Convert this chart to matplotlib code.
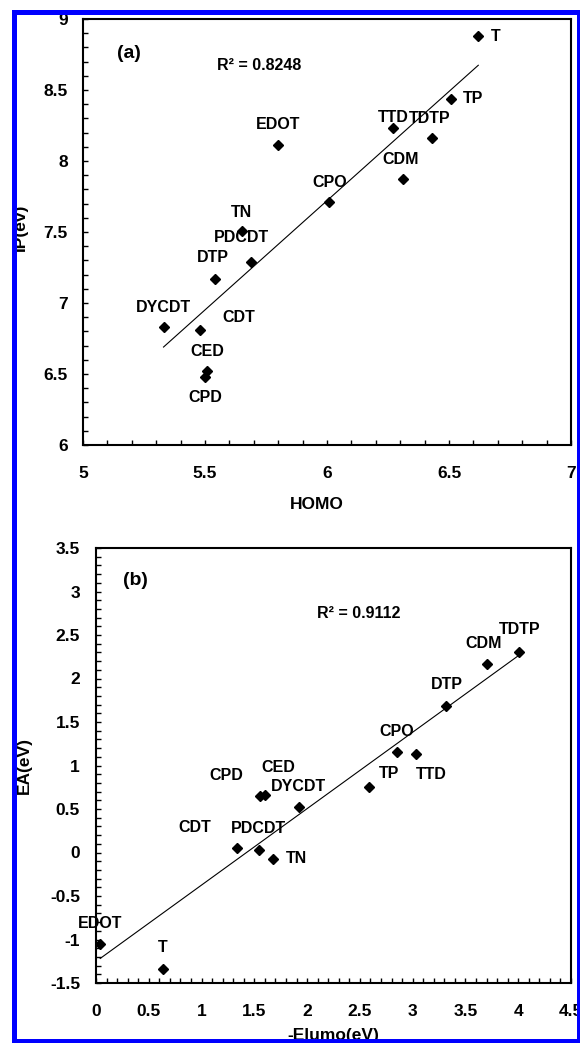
import matplotlib
matplotlib.use('Agg')
import matplotlib.pyplot as plt
from matplotlib.ticker import MultipleLocator, FuncFormatter
from matplotlib.patches import Rectangle
import numpy as np

plt.rcParams['font.family'] = ['Liberation Sans', 'DejaVu Sans']
plt.rcParams['font.weight'] = 'bold'

# Panel (a): ionisation potential vs HOMO
names_a = ['T', 'TP', 'TTD', 'TDTP', 'CDM', 'EDOT', 'CPO', 'TN', 'PDCDT',
           'DTP', 'DYCDT', 'CDT', 'CED', 'CPD']
homo = [6.62, 6.51, 6.27, 6.43, 6.31, 5.80, 6.01, 5.65, 5.69,
        5.54, 5.33, 5.48, 5.51, 5.50]
ip = [8.88, 8.44, 8.23, 8.16, 7.87, 8.11, 7.71, 7.51, 7.29,
      7.17, 6.83, 6.81, 6.52, 6.48]

# Panel (b): electron affinity vs -E_lumo
names_b = ['TDTP', 'CDM', 'DTP', 'CPO', 'TTD', 'TP', 'CPD', 'CED', 'DYCDT',
           'CDT', 'PDCDT', 'TN', 'EDOT', 'T']
elumo = [4.01, 3.70, 3.32, 2.85, 3.03, 2.59, 1.55, 1.60, 1.92,
         1.34, 1.54, 1.68, 0.04, 0.63]
ea = [2.31, 2.17, 1.68, 1.15, 1.13, 0.75, 0.65, 0.66, 0.52,
      0.05, 0.03, -0.07, -1.05, -1.34]

# label offsets (pixels) from each marker
off_a = {'T': (17, 0), 'TP': (22, 0), 'TTD': (0, 11), 'TDTP': (-2, 20),
         'CDM': (-2, 20), 'EDOT': (0, 21), 'CPO': (0, 20), 'TN': (0, 18),
         'PDCDT': (-10, 24), 'DTP': (-2, 21), 'DYCDT': (0, 20),
         'CDT': (39, 12), 'CED': (0, 20), 'CPD': (0, -21)}
off_b = {'TDTP': (0, 22), 'CDM': (-3, 20), 'DTP': (0, 22), 'CPO': (0, 21),
         'TTD': (15, -20), 'TP': (20, 14), 'CPD': (-33, 20), 'CED': (13, 28),
         'DYCDT': (0, 21), 'CDT': (-43, 21), 'PDCDT': (0, 21), 'TN': (23, 0),
         'EDOT': (0, 20), 'T': (0, 22)}

W, H = 580, 1043
fig = plt.figure(figsize=(W / 100, H / 100), dpi=100)
fmt = FuncFormatter(lambda v, p: f'{v:g}')
px = 0.72  # points per pixel


def style(ax, xlim, ylim, xpad, ypad):
    ax.set_xlim(*xlim)
    ax.set_ylim(*ylim)
    for s in ax.spines.values():
        s.set_linewidth(1.5)
    ax.xaxis.set_major_locator(MultipleLocator(0.5))
    ax.yaxis.set_major_locator(MultipleLocator(0.5))
    ax.xaxis.set_minor_locator(MultipleLocator(0.1))
    ax.yaxis.set_minor_locator(MultipleLocator(0.1))
    ax.xaxis.set_major_formatter(fmt)
    ax.yaxis.set_major_formatter(fmt)
    ax.tick_params(which='both', direction='in', length=3.5, width=1,
                   top=False, right=False)
    ax.tick_params(axis='x', which='major', pad=xpad, labelsize=12.5)
    ax.tick_params(axis='y', which='major', pad=ypad, labelsize=12.5)


def panel(ax, x, y, names, offs):
    ax.plot(x, y, 'D', color='black', markersize=5.5, zorder=3)
    k, b = np.polyfit(x, y, 1)
    xx = np.array([min(x), max(x)])
    ax.plot(xx, k * xx + b, color='black', linewidth=0.8)
    for n, xi, yi in zip(names, x, y):
        dx, dy = offs[n]
        ax.annotate(n, (xi, yi), xytext=(dx * px, dy * px),
                    textcoords='offset points', ha='center', va='center',
                    fontsize=11.5, fontweight='bold')


ax1 = fig.add_axes([83 / W, 1 - 445 / H, 488 / W, 426 / H])
style(ax1, (5, 7), (6, 9), 15, 11)
panel(ax1, homo, ip, names_a, off_a)
ax1.text(5.19, 8.76, '(a)', fontsize=14, ha='center', va='center')
ax1.text(5.72, 8.67, 'R² = 0.8248', fontsize=11.5, ha='center', va='center')
ax1.set_xlabel('HOMO', fontsize=12.5, fontweight='bold')
ax1.set_ylabel('IP(ev)', fontsize=12.5, fontweight='bold')
ax1.xaxis.set_label_coords(0.48, -0.122)
ax1.yaxis.set_label_coords(-0.112, 0.51)

ax2 = fig.add_axes([96 / W, 1 - 983 / H, 475 / W, 435 / H])
style(ax2, (0, 4.5), (-1.5, 3.5), 15, 11.5)
panel(ax2, elumo, ea, names_b, off_b)
ax2.text(0.37, 3.13, '(b)', fontsize=14, ha='center', va='center')
ax2.text(2.49, 2.75, 'R² = 0.9112', fontsize=11.5, ha='center', va='center')
ax2.set_xlabel('-Elumo(eV)', fontsize=12.5, fontweight='bold')
ax2.set_ylabel('EA(eV)', fontsize=12.5, fontweight='bold')
ax2.xaxis.set_label_coords(0.5, -0.103)
ax2.yaxis.set_label_coords(-0.135, 0.5)

# blue frame around the image
frame = Rectangle((13.5 / W, 2 / H), 565 / W, 1 - 11.5 / H - 2 / H,
                  transform=fig.transFigure, fill=False, edgecolor='#0000ff',
                  linewidth=3.6, zorder=10)
fig.patches.append(frame)

fig.savefig('out.png', dpi=100, facecolor='white')
